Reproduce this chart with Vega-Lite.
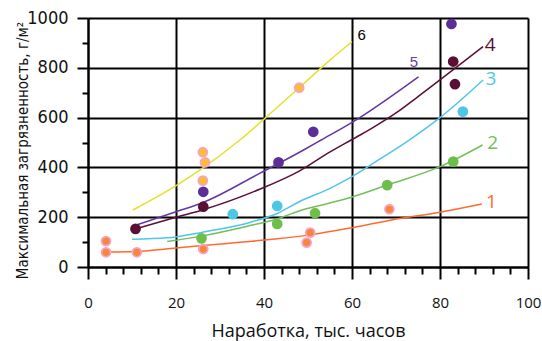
{
  "$schema": "https://vega.github.io/schema/vega-lite/v6.json",
  "width": 440,
  "height": 249,
  "autosize": {"type": "none"},
  "padding": {"left": 88, "top": 18, "right": 14, "bottom": 74},
  "background": "white",
  "config": {"view": {"stroke": null}},
  "datasets": {
    "lines": [
      {"series": "1", "x": 4.1, "y": 60}, {"series": "1", "x": 11, "y": 62}, {"series": "1", "x": 20, "y": 76}, {"series": "1", "x": 26, "y": 86}, {"series": "1", "x": 35, "y": 100}, {"series": "1", "x": 43, "y": 113}, {"series": "1", "x": 50, "y": 128}, {"series": "1", "x": 60, "y": 158}, {"series": "1", "x": 69, "y": 189}, {"series": "1", "x": 80, "y": 220}, {"series": "1", "x": 89.5, "y": 253},
      {"series": "2", "x": 18, "y": 102}, {"series": "2", "x": 26, "y": 125}, {"series": "2", "x": 36, "y": 163}, {"series": "2", "x": 43, "y": 193}, {"series": "2", "x": 48, "y": 225}, {"series": "2", "x": 55, "y": 257}, {"series": "2", "x": 60, "y": 281}, {"series": "2", "x": 68, "y": 329}, {"series": "2", "x": 80, "y": 403}, {"series": "2", "x": 89.7, "y": 490},
      {"series": "3", "x": 10, "y": 111}, {"series": "3", "x": 18, "y": 117}, {"series": "3", "x": 26, "y": 140}, {"series": "3", "x": 37, "y": 180}, {"series": "3", "x": 43, "y": 215}, {"series": "3", "x": 48, "y": 262}, {"series": "3", "x": 55, "y": 316}, {"series": "3", "x": 60, "y": 363}, {"series": "3", "x": 66, "y": 430}, {"series": "3", "x": 73, "y": 510}, {"series": "3", "x": 80, "y": 600}, {"series": "3", "x": 89.8, "y": 751},
      {"series": "4", "x": 10.8, "y": 153}, {"series": "4", "x": 20, "y": 200}, {"series": "4", "x": 26, "y": 229}, {"series": "4", "x": 39, "y": 312}, {"series": "4", "x": 48, "y": 385}, {"series": "4", "x": 55, "y": 462}, {"series": "4", "x": 60, "y": 512}, {"series": "4", "x": 64, "y": 552}, {"series": "4", "x": 71, "y": 631}, {"series": "4", "x": 75, "y": 684}, {"series": "4", "x": 89.8, "y": 885},
      {"series": "5", "x": 11, "y": 169}, {"series": "5", "x": 20, "y": 222}, {"series": "5", "x": 26, "y": 258}, {"series": "5", "x": 39, "y": 376}, {"series": "5", "x": 49, "y": 470}, {"series": "5", "x": 53, "y": 510}, {"series": "5", "x": 60.3, "y": 584}, {"series": "5", "x": 75.1, "y": 764},
      {"series": "6", "x": 10.2, "y": 229}, {"series": "6", "x": 20.2, "y": 329}, {"series": "6", "x": 26.2, "y": 399}, {"series": "6", "x": 34.5, "y": 510}, {"series": "6", "x": 40.2, "y": 597}, {"series": "6", "x": 48, "y": 720}, {"series": "6", "x": 55, "y": 831}, {"series": "6", "x": 60, "y": 905}
    ],
    "points": [
      {"series": "1", "x": 4.1, "y": 104}, {"series": "1", "x": 4.1, "y": 59}, {"series": "1", "x": 11.1, "y": 59}, {"series": "1", "x": 26.2, "y": 72}, {"series": "1", "x": 49.7, "y": 98}, {"series": "1", "x": 50.5, "y": 138}, {"series": "1", "x": 68.5, "y": 232},
      {"series": "2", "x": 25.8, "y": 115}, {"series": "2", "x": 43, "y": 173}, {"series": "2", "x": 51.6, "y": 216}, {"series": "2", "x": 68, "y": 329}, {"series": "2", "x": 83, "y": 423},
      {"series": "3", "x": 32.9, "y": 212}, {"series": "3", "x": 43, "y": 245}, {"series": "3", "x": 85.2, "y": 624},
      {"series": "4", "x": 10.8, "y": 153}, {"series": "4", "x": 26.2, "y": 242}, {"series": "4", "x": 83, "y": 825}, {"series": "4", "x": 83.4, "y": 734},
      {"series": "5", "x": 26.2, "y": 302}, {"series": "5", "x": 43.3, "y": 420}, {"series": "5", "x": 51.2, "y": 543}, {"series": "5", "x": 82.6, "y": 976},
      {"series": "6", "x": 26.1, "y": 461}, {"series": "6", "x": 26.6, "y": 420}, {"series": "6", "x": 26.1, "y": 347}, {"series": "6", "x": 48, "y": 720}
    ],
    "labels": [
      {"series": "1", "x": 91.7, "y": 262, "label": "1"},
      {"series": "2", "x": 92, "y": 497, "label": "2"},
      {"series": "3", "x": 91.6, "y": 754, "label": "3"},
      {"series": "4", "x": 91.4, "y": 892, "label": "4"},
      {"series": "5", "x": 74.1, "y": 825, "label": "5"},
      {"series": "6", "x": 62.2, "y": 932, "label": "6"}
    ]
  },
  "layer": [
    {
      "data": {"name": "lines"},
      "mark": {"type": "line", "interpolate": "monotone", "strokeWidth": 1.5},
      "encoding": {
        "x": {"field": "x", "type": "quantitative", "scale": {"domain": [0, 100], "nice": false},
          "axis": {"orient": "bottom", "values": [0, 20, 40, 60, 80, 100], "grid": true, "gridColor": "black", "gridWidth": 2, "gridOpacity": 1,
            "domainColor": "black", "domainWidth": 2, "tickColor": "black", "tickWidth": 2, "tickSize": 12,
            "labelFont": "Open Sans", "labelFontSize": 15, "labelColor": "#111", "labelPadding": 16, "labelFlush": false,
            "title": "Наработка, тыс. часов", "titleFont": "Open Sans", "titleFontSize": 18, "titleFontWeight": "normal", "titleColor": "#111", "titlePadding": 12}},
        "y": {"field": "y", "type": "quantitative", "scale": {"domain": [0, 1000], "nice": false},
          "axis": {"orient": "left", "values": [0, 200, 400, 600, 800, 1000], "format": "d", "grid": true, "gridColor": "black", "gridWidth": 2, "gridOpacity": 1,
            "domainColor": "black", "domainWidth": 2, "tickColor": "black", "tickWidth": 2, "tickSize": 11,
            "labelFont": "Liberation Sans Narrow, Arial Narrow, DejaVu Sans Condensed, sans-serif", "labelFontSize": 18, "labelColor": "#111", "labelPadding": 9, "labelFlush": false,
            "title": "Максимальная загрязненность, г/м²", "titleFont": "Liberation Sans Narrow, Arial Narrow, DejaVu Sans Condensed, sans-serif", "titleFontSize": 15, "titleFontWeight": "normal", "titleColor": "#111",
            "titleX": -61, "titleY": 132, "titleBaseline": "alphabetic", "titleAngle": -90, "titleAlign": "center"}},
        "color": {"field": "series", "type": "nominal", "legend": null,
          "scale": {"domain": ["1", "2", "3", "4", "5", "6"], "range": ["#ff6b2d", "#72c05a", "#4fc6e8", "#5c0e36", "#6437a3", "#e4e02c"]}},
        "detail": {"field": "series"}
      }
    },
    {
      "data": {"name": "points"},
      "mark": {"type": "point", "filled": true, "shape": "circle", "size": 80, "strokeWidth": 1.8, "opacity": 1},
      "encoding": {
        "x": {"field": "x", "type": "quantitative", "scale": {"domain": [0, 100], "nice": false},
          "axis": {"orient": "bottom", "values": [4, 8, 12, 16, 24, 28, 32, 36, 44, 48, 52, 56, 64, 68, 72, 76, 84, 88, 92, 96], "grid": false, "domain": false, "labels": false, "title": null,
            "tickColor": "black", "tickWidth": 2, "tickSize": 7}},
        "y": {"field": "y", "type": "quantitative", "scale": {"domain": [0, 1000], "nice": false},
          "axis": {"orient": "left", "values": [100, 300, 500, 700, 900], "grid": false, "domain": false, "labels": false, "title": null,
            "tickColor": "black", "tickWidth": 2, "tickSize": 6}},
        "fill": {"field": "series", "type": "nominal", "legend": null,
          "scale": {"domain": ["1", "2", "3", "4", "5", "6"], "range": ["#f7853c", "#6dbf4a", "#4ec7e6", "#5a0f35", "#5b2f97", "#fdbd2f"]}},
        "stroke": {"field": "series", "type": "nominal", "legend": null,
          "scale": {"domain": ["1", "2", "3", "4", "5", "6"], "range": ["#f4a4c4", "#6dbf4a", "#4ec7e6", "#5a0f35", "#5b2f97", "#f4a4c4"]}}
      }
    },
    {
      "data": {"name": "labels"},
      "transform": [{"filter": "datum.series <= '4'"}],
      "mark": {"type": "text", "font": "Open Sans", "fontSize": 19, "align": "center", "baseline": "middle"},
      "encoding": {
        "x": {"field": "x", "type": "quantitative", "scale": {"domain": [0, 100], "nice": false}, "axis": null},
        "y": {"field": "y", "type": "quantitative", "scale": {"domain": [0, 1000], "nice": false}, "axis": null},
        "text": {"field": "label"},
        "color": {"field": "series", "type": "nominal", "legend": null,
          "scale": {"domain": ["1", "2", "3", "4"], "range": ["#ff6b2d", "#72c05a", "#4fc6e8", "#5c0e36"]}}
      }
    },
    {
      "data": {"name": "labels"},
      "transform": [{"filter": "datum.series > '4'"}],
      "mark": {"type": "text", "font": "Liberation Sans", "fontSize": 15, "align": "center", "baseline": "middle"},
      "encoding": {
        "x": {"field": "x", "type": "quantitative", "scale": {"domain": [0, 100], "nice": false}, "axis": null},
        "y": {"field": "y", "type": "quantitative", "scale": {"domain": [0, 1000], "nice": false}, "axis": null},
        "text": {"field": "label"},
        "color": {"field": "series", "type": "nominal", "legend": null,
          "scale": {"domain": ["5", "6"], "range": ["#6a3ea8", "#000000"]}}
      }
    }
  ],
  "resolve": {"axis": {"x": "independent", "y": "independent"}, "scale": {"color": "independent"}}
}
